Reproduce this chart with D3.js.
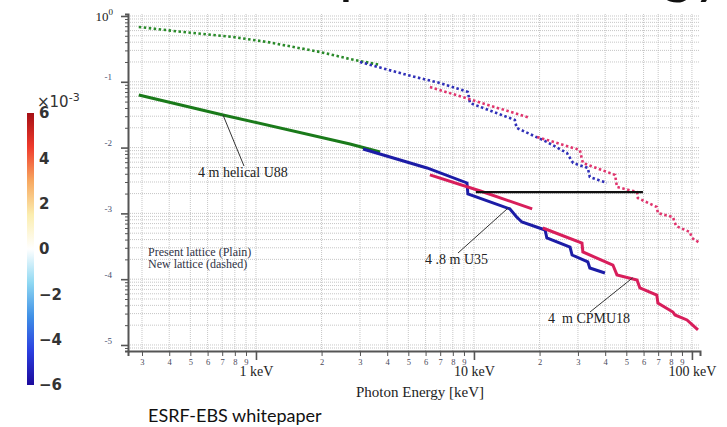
<!DOCTYPE html>
<html>
<head>
<meta charset="utf-8">
<script src="https://cdn.jsdelivr.net/npm/d3@7"></script>
<style>
  body { margin: 0; background: #fff; }
  svg { display: block; }
  .grid line { stroke: #b8b8b8; stroke-width: 0.8; stroke-dasharray: 1,1; }
  .axis path, .axis line { stroke: #555; }
  .serif { font-family: "Liberation Serif", "DejaVu Serif", serif; }
</style>
</head>
<body>
<div id="chart"></div>
<script>
/* Brilliance-ratio style log-log chart with a colour bar pasted next to it. */

/* photon energy [keV] / value pairs */
var u88Present = [[0.290, 0.0630], [0.706, 0.0313], [2.70, 0.01135], [3.71, 0.00857]];
var u88New = [[0.290, 0.681], [0.463, 0.571], [0.784, 0.480], [1.123, 0.403],
              [1.966, 0.284], [2.70, 0.222], [3.71, 0.180]];
var u35Present = [[3.10, 0.00952], [6.09, 0.00490], [9.29, 0.00290], [9.38, 0.00197],
                  [14.6, 0.00117], [15.7, 0.000881], [16.6, 0.000739], [21.2, 0.000559],
                  [21.6, 0.000423], [27.6, 0.000308], [28.2, 0.000233], [33.3, 0.000183],
                  [34.0, 0.000148], [39.9, 0.000124]];
var u35New = [[3.00, 0.200], [4.93, 0.127], [6.98, 0.0959], [9.38, 0.0700], [9.59, 0.0476],
              [15.4, 0.0263], [15.7, 0.0199], [21.6, 0.0122], [26.7, 0.00828],
              [28.5, 0.00583], [33.3, 0.00490], [34.0, 0.00357], [40.7, 0.00290]];
var cpmuPresentA = [[6.28, 0.00384], [10.7, 0.00219], [18.5, 0.00117]];
var cpmuPresentB = [[20.7, 0.000600], [31.3, 0.000355], [31.6, 0.000259], [43.4, 0.000164],
                    [45.3, 0.000116], [56.0, 0.0000973], [57.7, 0.0000735], [69.0, 0.0000575],
                    [69.8, 0.0000435], [81.8, 0.0000317], [83.6, 0.0000286], [94.9, 0.0000240],
                    [106.6, 0.0000169]];
var cpmuNewA = [[6.28, 0.0834], [18.1, 0.0282]];
var cpmuNewB = [[19.5, 0.0145], [30.6, 0.00920], [31.6, 0.00583], [44.4, 0.00384],
                [45.3, 0.00252], [56.0, 0.00211], [56.5, 0.00171], [69.0, 0.00125],
                [69.8, 0.00101], [81.8, 0.000881], [84.5, 0.000644], [97.9, 0.000521],
                [100, 0.000423], [108.8, 0.000355]];
var refLine = [[10.2, 0.00211], [59.6, 0.00211]];

/* axis ticks */
var xMajor = [1, 10, 100],
    xMajorLabels = ["1 keV", "10 keV", "100 keV"],
    yMajor = [1, 0.1, 0.01, 0.001, 0.0001, 0.00001],
    yMajorLabels = ["0", "-1", "-2", "-3", "-4", "-5"];

/* colour bar */
var cbarTicks = [6, 4, 2, 0, -2, -4, -6],
    cbarStops = ["#1c0a9c", "#2b3fe0", "#3f8fe6", "#8fd8f2", "#ffffff",
                 "#fbeeb0", "#f7a860", "#ef3b2c", "#a50f15"];

var width = 727, height = 427;

var svg = d3.select("#chart").append("svg")
    .attr("width", width)
    .attr("height", height);

var x = d3.scaleLog().domain([0.2588, 108.9]).range([128, 700]);
var y = d3.scaleLog().domain([8.1e-6, 1.072]).range([351, 14]);

/* big slide title, mostly cut off by the top edge */
svg.append("text")
    .attr("x", 724).attr("y", -8)
    .attr("text-anchor", "end")
    .style("font-family", "Lato, 'Open Sans', sans-serif")
    .style("font-size", "60px")
    .attr("fill", "#111")
    .text("Coherent fraction vs photon energy");

/* minor grid values for each decade */
var xGridVals = [], yGridVals = [];
[0.1, 1, 10, 100].forEach(function(d) {
    for (var k = 1; k < 10; k++) {
        var v = d * k;
        if (v >= x.domain()[0] && v <= x.domain()[1]) xGridVals.push(v);
    }
});
[1e-6, 1e-5, 1e-4, 1e-3, 1e-2, 1e-1, 1].forEach(function(d) {
    for (var k = 1; k < 10; k++) {
        var v = d * k;
        if (v >= y.domain()[0] && v <= y.domain()[1]) yGridVals.push(v);
    }
});

var grid = svg.append("g").attr("class", "grid");
grid.selectAll(".gx").data(xGridVals).enter().append("line")
    .attr("x1", function(d) { return x(d); }).attr("x2", function(d) { return x(d); })
    .attr("y1", y.range()[1]).attr("y2", y.range()[0]);
grid.selectAll(".gy").data(yGridVals).enter().append("line")
    .attr("y1", function(d) { return y(d); }).attr("y2", function(d) { return y(d); })
    .attr("x1", x.range()[0]).attr("x2", x.range()[1]);

/* axes: minor ticks and the major ones drawn separately */
var xMinor = xGridVals.filter(function(d) { return xMajor.indexOf(d) < 0; });
var yMinor = yGridVals.filter(function(d) { return yMajor.every(function(m) { return Math.abs(m - d) / d > 1e-6; }); });

var xAxisMinor = svg.append("g")
    .attr("class", "axis")
    .attr("transform", "translate(0,351)")
    .call(d3.axisBottom(x).tickValues(xMinor).tickSize(5).tickPadding(3)
          .tickFormat(function(d) { return Math.round(d / Math.pow(10, Math.floor(Math.log10(d) + 1e-9))); }));
xAxisMinor.select(".domain").attr("stroke-width", 2);
xAxisMinor.selectAll("text")
    .attr("class", "serif").style("font-size", "8.5px").attr("fill", "#4a4a5a");

var xAxisMajor = svg.append("g")
    .attr("class", "axis")
    .attr("transform", "translate(0,351)")
    .call(d3.axisBottom(x).tickValues(xMajor).tickSize(9).tickPadding(6)
          .tickFormat(function(d, i) { return xMajorLabels[i]; }));
xAxisMajor.select(".domain").remove();
xAxisMajor.selectAll("line").attr("stroke-width", 1.6);
xAxisMajor.selectAll("text")
    .attr("class", "serif").style("font-size", "14px").attr("fill", "#222");

var yAxisMinor = svg.append("g")
    .attr("class", "axis")
    .attr("transform", "translate(128,0)")
    .call(d3.axisLeft(y).tickValues(yMinor).tickSize(3).tickFormat(""));
yAxisMinor.select(".domain").attr("stroke-width", 2);

var yAxisMajor = svg.append("g")
    .attr("class", "axis")
    .attr("transform", "translate(128,0)")
    .call(d3.axisLeft(y).tickValues(yMajor).tickSize(7).tickPadding(9)
          .tickFormat(function(d, i) { return i === 0 ? "" : yMajorLabels[i]; }));
yAxisMajor.select(".domain").remove();
yAxisMajor.selectAll("line").attr("stroke-width", 1.6);
yAxisMajor.selectAll("text")
    .attr("class", "serif").attr("dy", "-0.2em")
    .style("font-size", "9px").attr("fill", "#46506e");

/* the 10^0 label at the top */
var top0 = svg.append("text")
    .attr("class", "serif")
    .attr("x", 113).attr("y", y(1) + 5)
    .attr("text-anchor", "end")
    .style("font-size", "13px").attr("fill", "#222");
top0.append("tspan").text("10");
top0.append("tspan").attr("dy", -6).style("font-size", "9px").text(yMajorLabels[0]);

svg.append("text")
    .attr("class", "serif")
    .attr("x", 420).attr("y", 397)
    .attr("text-anchor", "middle")
    .style("font-size", "15px").attr("fill", "#222")
    .text("Photon Energy [keV]");

/* curves */
var line = d3.line()
    .x(function(d) { return x(d[0]); })
    .y(function(d) { return y(d[1]); });

var curves = [
    {data: u88New, color: "#2a8a2a", dash: "2.5,2.5", w: 2.6},
    {data: u35New, color: "#3030b8", dash: "2.5,2.5", w: 2.6},
    {data: cpmuNewA, color: "#e0356e", dash: "2.5,2.5", w: 2.6},
    {data: cpmuNewB, color: "#e0356e", dash: "2.5,2.5", w: 2.6},
    {data: u88Present, color: "#1a7a1a", dash: null, w: 3},
    {data: u35Present, color: "#1c1ca6", dash: null, w: 3},
    {data: cpmuPresentA, color: "#d81e5b", dash: null, w: 3},
    {data: cpmuPresentB, color: "#d81e5b", dash: null, w: 3},
    {data: refLine, color: "#111", dash: null, w: 2.2}
];

svg.selectAll(".curve").data(curves).enter().append("path")
    .attr("class", "curve")
    .attr("d", function(d) { return line(d.data); })
    .attr("fill", "none")
    .attr("stroke", function(d) { return d.color; })
    .attr("stroke-width", function(d) { return d.w; })
    .attr("stroke-dasharray", function(d) { return d.dash; });

/* labels with leader lines: [energy, value] of the pointed spot */
var notes = [
    {text: "4 m helical U88", at: [0.706, 0.0313], tx: 198, ty: 177, lx: 244, ly: 166},
    {text: "4 .8 m U35", at: [14.4, 0.00122], tx: 425, ty: 264, lx: 458, ly: 253},
    {text: "4  m CPMU18", at: [53.5, 0.000105], tx: 548, ty: 323, lx: 590, ly: 312}
];
notes.forEach(function(n) {
    svg.append("line")
        .attr("x1", n.lx).attr("y1", n.ly)
        .attr("x2", x(n.at[0])).attr("y2", y(n.at[1]))
        .attr("stroke", "#333").attr("stroke-width", 1);
    svg.append("text")
        .attr("class", "serif")
        .attr("x", n.tx).attr("y", n.ty)
        .style("font-size", "14px").attr("fill", "#222")
        .style("white-space", "pre")
        .text(n.text);
});

svg.append("text").attr("class", "serif")
    .attr("x", 148).attr("y", 256)
    .style("font-size", "12px").attr("fill", "#2f3345")
    .text("Present lattice (Plain)");
svg.append("text").attr("class", "serif")
    .attr("x", 148).attr("y", 268)
    .style("font-size", "12px").attr("fill", "#2f3345")
    .text("New lattice (dashed)");

/* colour bar on the left */
var c = d3.scaleLinear().domain([-6, 6]).range([385, 113]);

var grad = svg.append("defs").append("linearGradient")
    .attr("id", "cbar")
    .attr("x1", 0).attr("y1", 1).attr("x2", 0).attr("y2", 0);
grad.selectAll("stop").data(cbarStops).enter().append("stop")
    .attr("offset", function(d, i) { return i / (cbarStops.length - 1); })
    .attr("stop-color", function(d) { return d; });

svg.append("rect")
    .attr("x", 27).attr("y", c(6))
    .attr("width", 7).attr("height", c(-6) - c(6))
    .attr("fill", "url(#cbar)");

var cAxis = svg.append("g")
    .attr("transform", "translate(34,0)")
    .call(d3.axisRight(c).tickValues(cbarTicks).tickSize(0).tickPadding(5));
cAxis.select(".domain").remove();
cAxis.selectAll("text")
    .style("font-family", "'DejaVu Sans', sans-serif")
    .style("font-size", "15px").style("font-weight", "bold")
    .attr("fill", "#333");

var exp = svg.append("text")
    .attr("x", 37).attr("y", 107)
    .style("font-family", "'DejaVu Sans', sans-serif")
    .style("font-size", "15px").attr("fill", "#333");
exp.append("tspan").text("\u00d710");
exp.append("tspan").attr("dy", -6).style("font-size", "11px").text("-3");

svg.append("text")
    .attr("x", 148).attr("y", 422)
    .style("font-family", "Lato, 'Open Sans', sans-serif")
    .style("font-size", "18px").attr("fill", "#111")
    .text("ESRF-EBS whitepaper");
</script>
</body>
</html>
